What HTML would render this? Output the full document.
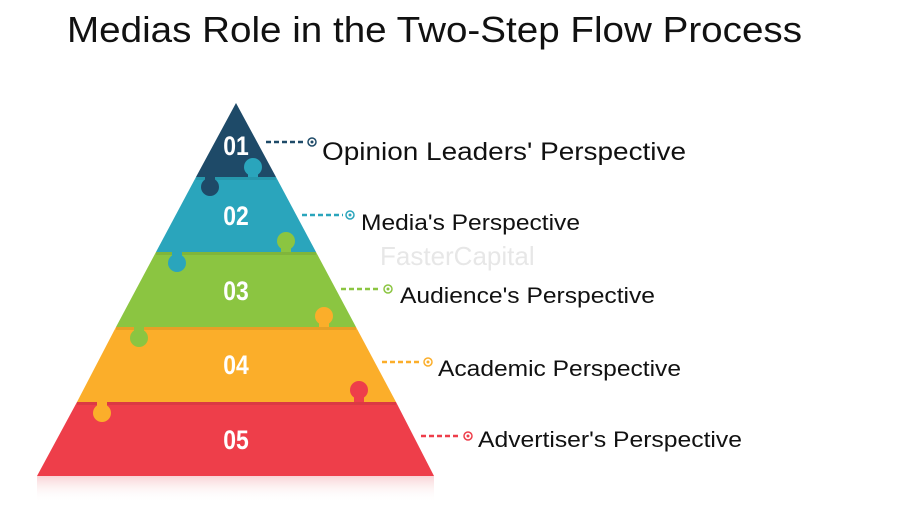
<!DOCTYPE html>
<html><head><meta charset="utf-8"><style>
html,body{margin:0;padding:0;background:#fff;}
svg{display:block;}
</style></head><body>
<svg width="900" height="513" viewBox="0 0 900 513" xmlns="http://www.w3.org/2000/svg" font-family="Liberation Sans, sans-serif">
<defs>
<linearGradient id="refl" x1="0" y1="0" x2="0" y2="1">
<stop offset="0" stop-color="#f7c9cc" stop-opacity="0.8"/>
<stop offset="1" stop-color="#ffffff" stop-opacity="0"/>
</linearGradient>
</defs>
<text x="67" y="42" font-size="36" fill="#111" textLength="735" lengthAdjust="spacingAndGlyphs">Medias Role in the Two-Step Flow Process</text>

<!-- reflection -->
<polygon points="37,476 434,476 434,502 37,502" fill="url(#refl)"/>

<!-- bands -->
<polygon points="236,103 276,177 196,177" fill="#1e4a68"/>
<polygon points="196,177 276,177 316,252 156,252" fill="#2aa5bc"/>
<polygon points="156,252 316,252 356,327 116,327" fill="#8bc541"/>
<polygon points="116,327 356,327 396,402 77,402" fill="#fbae2a"/>
<polygon points="77,402 396,402 434,476 37,476" fill="#ee3e4a"/>

<!-- shadows at boundaries -->
<rect x="196" y="177" width="80" height="3" fill="#000" opacity="0.08"/>
<rect x="156" y="252" width="160" height="3" fill="#000" opacity="0.08"/>
<rect x="116" y="327" width="240" height="3" fill="#000" opacity="0.08"/>
<rect x="77" y="402" width="319" height="3" fill="#000" opacity="0.08"/>

<!-- knobs -->
<circle cx="253" cy="167" r="9" fill="#2aa5bc"/><rect x="248" y="167" width="10" height="10" fill="#2aa5bc"/>
<circle cx="210" cy="187" r="9" fill="#1e4a68"/><rect x="205" y="176" width="10" height="10" fill="#1e4a68"/>
<circle cx="286" cy="241" r="9" fill="#8bc541"/><rect x="281" y="241" width="10" height="11" fill="#8bc541"/>
<circle cx="177" cy="263" r="9" fill="#2aa5bc"/><rect x="172" y="251" width="10" height="11" fill="#2aa5bc"/>
<circle cx="324" cy="316" r="9" fill="#fbae2a"/><rect x="319" y="316" width="10" height="11" fill="#fbae2a"/>
<circle cx="139" cy="338" r="9" fill="#8bc541"/><rect x="134" y="326" width="10" height="11" fill="#8bc541"/>
<circle cx="359" cy="390" r="9" fill="#ee3e4a"/><rect x="354" y="390" width="10" height="12" fill="#ee3e4a"/>
<circle cx="102" cy="413" r="9" fill="#fbae2a"/><rect x="97" y="401" width="10" height="12" fill="#fbae2a"/>

<!-- numbers -->
<g fill="#fff" font-weight="bold" font-size="27" text-anchor="middle">
<text x="236" y="155" transform="translate(236 0) scale(0.85 1) translate(-236 0)">01</text>
<text x="236" y="225" transform="translate(236 0) scale(0.85 1) translate(-236 0)">02</text>
<text x="236" y="300" transform="translate(236 0) scale(0.85 1) translate(-236 0)">03</text>
<text x="236" y="374" transform="translate(236 0) scale(0.85 1) translate(-236 0)">04</text>
<text x="236" y="449" transform="translate(236 0) scale(0.85 1) translate(-236 0)">05</text>
</g>

<!-- connectors -->
<g stroke-width="2.5" stroke-dasharray="5,3" fill="none">
<line x1="266" y1="142" x2="305" y2="142" stroke="#1e4a68"/>
<line x1="302" y1="215" x2="343" y2="215" stroke="#2aa5bc"/>
<line x1="341" y1="289" x2="381" y2="289" stroke="#8bc541"/>
<line x1="382" y1="362" x2="421" y2="362" stroke="#fbae2a"/>
<line x1="421" y1="436" x2="461" y2="436" stroke="#ee3e4a"/>
</g>
<g fill="#fff" stroke-width="1.5">
<circle cx="312" cy="142" r="4" stroke="#1e4a68"/><circle cx="312" cy="142" r="1.5" fill="#1e4a68"/>
<circle cx="350" cy="215" r="4" stroke="#2aa5bc"/><circle cx="350" cy="215" r="1.5" fill="#2aa5bc"/>
<circle cx="388" cy="289" r="4" stroke="#8bc541"/><circle cx="388" cy="289" r="1.5" fill="#8bc541"/>
<circle cx="428" cy="362" r="4" stroke="#fbae2a"/><circle cx="428" cy="362" r="1.5" fill="#fbae2a"/>
<circle cx="468" cy="436" r="4" stroke="#ee3e4a"/><circle cx="468" cy="436" r="1.5" fill="#ee3e4a"/>
</g>

<!-- labels -->
<g fill="#111">
<text x="322" y="160" font-size="25" textLength="364" lengthAdjust="spacingAndGlyphs">Opinion Leaders' Perspective</text>
<text x="361" y="230" font-size="22" textLength="219" lengthAdjust="spacingAndGlyphs">Media's Perspective</text>
<text x="400" y="303" font-size="22" textLength="255" lengthAdjust="spacingAndGlyphs">Audience's Perspective</text>
<text x="438" y="376" font-size="22" textLength="243" lengthAdjust="spacingAndGlyphs">Academic Perspective</text>
<text x="478" y="447" font-size="22" textLength="264" lengthAdjust="spacingAndGlyphs">Advertiser's Perspective</text>
</g>

<!-- watermark -->
<text x="380" y="265" font-size="26" fill="#ddd" opacity="0.7">FasterCapital</text>
</svg>
</body></html>
